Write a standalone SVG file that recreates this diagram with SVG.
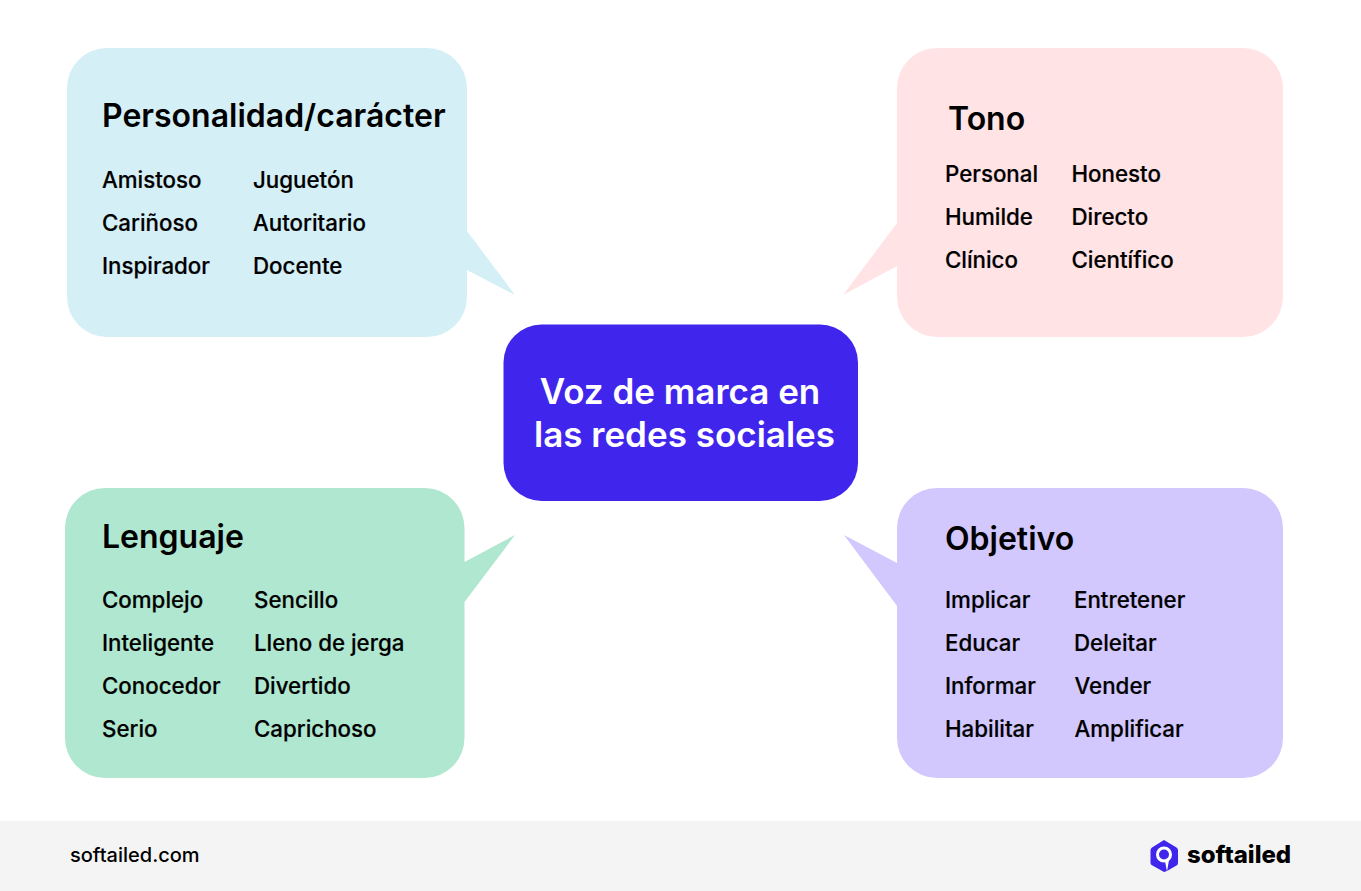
<svg xmlns="http://www.w3.org/2000/svg" width="1361" height="891" viewBox="0 0 1361 891">
<style>
text{font-family:Inter,"Liberation Sans",sans-serif;fill:#000}
.h{font-size:32px;font-weight:600}
.t{font-size:22.3px;font-weight:500;stroke:#000;stroke-width:.2px}
.c{font-size:35px;font-weight:600;fill:#fff}
</style>
<rect width="1361" height="891" fill="#fff"/>
<rect id="footer" x="0" y="821" width="1361" height="70" fill="#f4f4f5"/>
<g id="personalidad">
<path fill="#d5eff6" d="M107 48H427A40 40 0 0 1 467 88V231L515 295L467 270V297A40 40 0 0 1 427 337H107A40 40 0 0 1 67 297V88A40 40 0 0 1 107 48Z"/>
<text class="h" x="102" y="127">Personalidad/carácter</text>
<text class="t" x="102" y="188">Amistoso</text><text class="t" x="253" y="188">Juguetón</text>
<text class="t" x="102" y="231">Cariñoso</text><text class="t" x="253" y="231">Autoritario</text>
<text class="t" x="102" y="274">Inspirador</text><text class="t" x="253" y="274">Docente</text>
</g>
<g id="tono">
<path fill="#ffe3e5" d="M937 48H1243A40 40 0 0 1 1283 88V297A40 40 0 0 1 1243 337H937A40 40 0 0 1 897 297V266L843 295L897 223V88A40 40 0 0 1 937 48Z"/>
<text class="h" x="948" y="130">Tono</text>
<text class="t" x="945" y="182">Personal</text><text class="t" x="1071.500" y="182">Honesto</text>
<text class="t" x="945" y="225">Humilde</text><text class="t" x="1071.500" y="225">Directo</text>
<text class="t" x="945" y="268">Clínico</text><text class="t" x="1071.500" y="268">Científico</text>
</g>
<g id="lenguaje">
<path fill="#b0e7d1" d="M105 488H424.500A40 40 0 0 1 464.500 528V562L515 535L464.500 602V738A40 40 0 0 1 424.500 778H105A40 40 0 0 1 65 738V528A40 40 0 0 1 105 488Z"/>
<text class="h" x="102" y="548">Lenguaje</text>
<text class="t" x="102" y="608">Complejo</text><text class="t" x="254" y="608">Sencillo</text>
<text class="t" x="102" y="651">Inteligente</text><text class="t" x="254" y="651">Lleno de jerga</text>
<text class="t" x="102" y="694">Conocedor</text><text class="t" x="254" y="694">Divertido</text>
<text class="t" x="102" y="737">Serio</text><text class="t" x="254" y="737">Caprichoso</text>
</g>
<g id="objetivo">
<path fill="#d2c8fd" d="M937 488H1243A40 40 0 0 1 1283 528V738A40 40 0 0 1 1243 778H937A40 40 0 0 1 897 738V606L844 535L897 563V528A40 40 0 0 1 937 488Z"/>
<text class="h" x="945" y="550">Objetivo</text>
<text class="t" x="945" y="608">Implicar</text><text class="t" x="1074" y="608">Entretener</text>
<text class="t" x="945" y="651">Educar</text><text class="t" x="1074" y="651">Deleitar</text>
<text class="t" x="945" y="694">Informar</text><text class="t" x="1074.500" y="694">Vender</text>
<text class="t" x="945" y="737">Habilitar</text><text class="t" x="1074.500" y="737">Amplificar</text>
</g>
<g id="centro">
<rect x="503.500" y="324.500" width="354.500" height="176.500" rx="38" fill="#4026ed"/>
<text class="c" x="680" y="404" text-anchor="middle">Voz de marca en</text>
<text class="c" x="684.500" y="447" text-anchor="middle">las redes sociales</text>
</g>
<g id="connectors"/>
<text x="70" y="862" style="font-size:20px;font-weight:500">softailed.com</text>
<g id="logo">
<path fill="#4026ed" d="M1164 840L1176.500 847.500Q1178 848.500 1178 850V863Q1178 864.500 1176.500 865.500L1167 871L1164 872L1152.500 865.500Q1150.500 864.500 1150.500 863V850Q1150.500 848.500 1152 847.500Z"/>
<circle cx="1164" cy="854.500" r="6.500" fill="none" stroke="#fff" stroke-width="3"/>
<path d="M1165 861L1167 871.500L1169 860Z" fill="#fff"/>
<text x="1187" y="863" style="font-size:24px;font-weight:800">softailed</text>
</g>
</svg>
